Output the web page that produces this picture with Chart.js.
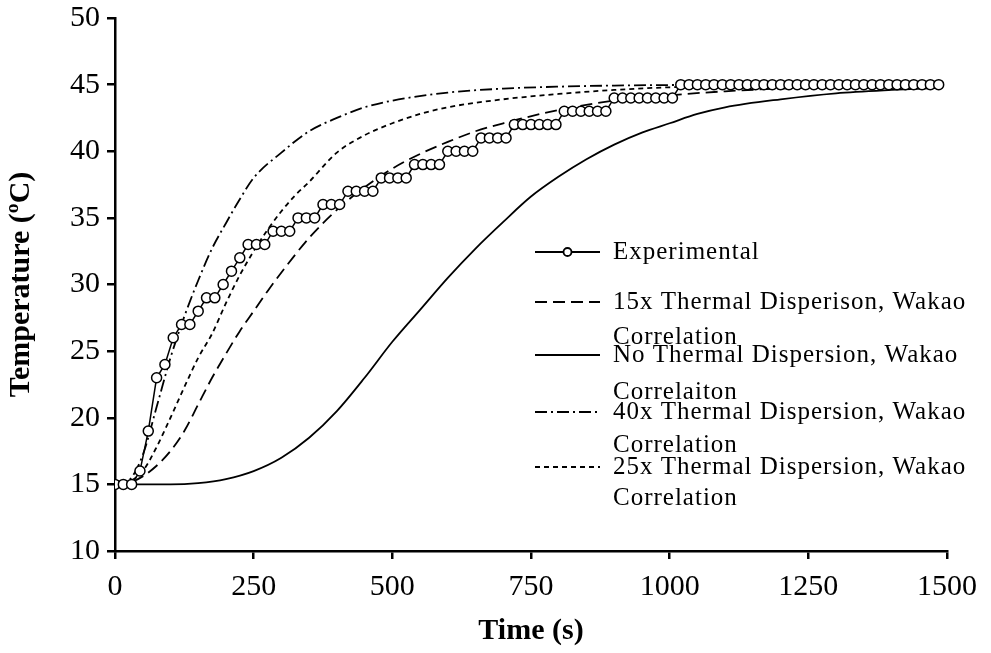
<!DOCTYPE html>
<html>
<head>
<meta charset="utf-8">
<script src="https://cdn.jsdelivr.net/npm/chart.js@4.4.1/dist/chart.umd.min.js"></script>
<style>
  body { margin: 0; background: #fff; }
  #wrap { width: 991px; height: 653px; }
</style>
</head>
<body>
<div id="wrap"><canvas id="chart"></canvas></div>
<script>
// experimental readings, every 15 s
const expTime = [0, 15, 30, 45, 60, 75, 90, 105, 120, 135, 150, 165, 180, 195, 210, 225, 240, 255, 270, 285,
  300, 315, 330, 345, 360, 375, 390, 405, 420, 435, 450, 465, 480, 495, 510, 525, 540, 555, 570, 585,
  600, 615, 630, 645, 660, 675, 690, 705, 720, 735, 750, 765, 780, 795, 810, 825, 840, 855, 870, 885,
  900, 915, 930, 945, 960, 975, 990, 1005, 1020, 1035, 1050, 1065, 1080, 1095, 1110, 1125, 1140, 1155, 1170, 1185,
  1200, 1215, 1230, 1245, 1260, 1275, 1290, 1305, 1320, 1335, 1350, 1365, 1380, 1395, 1410, 1425, 1440, 1455, 1470, 1485];
const expTemp = [15, 15, 15, 16, 19, 23, 24, 26, 27, 27, 28, 29, 29, 30, 31, 32, 33, 33, 33, 34,
  34, 34, 35, 35, 35, 36, 36, 36, 37, 37, 37, 37, 38, 38, 38, 38, 39, 39, 39, 39,
  40, 40, 40, 40, 41, 41, 41, 41, 42, 42, 42, 42, 42, 42, 43, 43, 43, 43, 43, 43,
  44, 44, 44, 44, 44, 44, 44, 44, 45, 45, 45, 45, 45, 45, 45, 45, 45, 45, 45, 45,
  45, 45, 45, 45, 45, 45, 45, 45, 45, 45, 45, 45, 45, 45, 45, 45, 45, 45, 45, 45];

// model curves
const x15Time = [0, 25, 50, 75, 100, 125, 150, 175, 200, 225, 250, 275, 300, 350, 400, 450, 500, 550, 600, 650, 700, 800, 900, 1000, 1100, 1200, 1300, 1485];
const x15Temp = [15, 15.1, 15.6, 16.4, 17.5, 19.0, 21.0, 23.0, 24.8, 26.5, 28.0, 29.5, 30.9, 33.5, 35.6, 37.3, 38.7, 39.8, 40.7, 41.5, 42.1, 43.1, 43.8, 44.2, 44.5, 44.7, 44.8, 44.9];

const noTime = [0, 100, 150, 200, 250, 300, 350, 400, 450, 500, 550, 600, 650, 700, 750, 800, 850, 900, 950, 1000, 1050, 1100, 1200, 1300, 1400, 1485];
const noTemp = [15, 15, 15.1, 15.4, 16.0, 17.0, 18.5, 20.5, 23.0, 25.7, 28.1, 30.5, 32.7, 34.7, 36.6, 38.1, 39.4, 40.5, 41.4, 42.1, 42.8, 43.3, 43.9, 44.35, 44.6, 44.75];

const x40Time = [0, 25, 50, 75, 100, 125, 150, 175, 200, 225, 250, 300, 350, 400, 450, 500, 600, 700, 800, 900, 1000, 1200, 1485];
const x40Temp = [15, 15.3, 17.2, 20.8, 24.5, 27.6, 30.3, 32.7, 34.6, 36.4, 38.0, 39.9, 41.5, 42.5, 43.3, 43.8, 44.4, 44.7, 44.85, 44.93, 44.97, 45, 45];

const x25Time = [0, 25, 50, 75, 100, 125, 150, 175, 200, 225, 250, 275, 300, 325, 350, 400, 450, 500, 550, 600, 700, 800, 900, 1000, 1200, 1485];
const x25Temp = [15, 15.2, 16.0, 17.8, 20.0, 22.3, 24.5, 26.3, 28.6, 30.7, 32.5, 34.1, 35.5, 36.7, 37.7, 39.9, 41.2, 42.1, 42.8, 43.3, 43.9, 44.3, 44.6, 44.8, 44.93, 45];

const xTicks = [0, 250, 500, 750, 1000, 1250, 1500];
const yTicks = [10, 15, 20, 25, 30, 35, 40, 45, 50];

const legendItems = [
  { lines: ['Experimental'], dash: [], marker: true },
  { lines: ['15x Thermal Disperison, Wakao', 'Correlation'], dash: [12, 6] },
  { lines: ['No Thermal Dispersion, Wakao', 'Correlaiton'], dash: [] },
  { lines: ['40x Thermal Dispersion, Wakao', 'Correlation'], dash: [12, 4, 2, 4] },
  { lines: ['25x Thermal Dispersion, Wakao', 'Correlation'], dash: [5, 4] }
];

const pts = (xs, ys) => xs.map((x, i) => ({ x: x, y: ys[i] }));
const FONT = "'Liberation Serif', 'Times New Roman', serif";

const legendPlugin = {
  id: 'boxLegend',
  afterDraw(chart) {
    const ctx = chart.ctx;
    const a = chart.chartArea;
    const rows = [[234, 0], [284, 35], [337, 37], [394, 33], [449, 31]];
    ctx.save();
    ctx.font = '25px ' + FONT;
    ctx.letterSpacing = '1px';
    ctx.fillStyle = '#000';
    ctx.textBaseline = 'middle';
    legendItems.forEach((it, i) => {
      const y = a.top + rows[i][0];
      const x0 = a.left + 420, x1 = a.left + 485;
      ctx.strokeStyle = '#000';
      ctx.lineWidth = 1.8;
      ctx.setLineDash(it.dash);
      ctx.beginPath();
      ctx.moveTo(x0, y);
      ctx.lineTo(x1, y);
      ctx.stroke();
      ctx.setLineDash([]);
      if (it.marker) {
        ctx.beginPath();
        ctx.arc((x0 + x1) / 2, y, 4, 0, Math.PI * 2);
        ctx.fillStyle = '#fff';
        ctx.fill();
        ctx.stroke();
        ctx.fillStyle = '#000';
      }
      ctx.fillText(it.lines[0], a.left + 498, y);
      if (it.lines[1]) ctx.fillText(it.lines[1], a.left + 498, y + rows[i][1]);
    });
    ctx.restore();
  }
};

const curve = (data, dash) => ({
  data: data,
  borderColor: '#000',
  borderWidth: 1.8,
  borderDash: dash,
  pointRadius: 0,
  cubicInterpolationMode: 'monotone',
  fill: false
});

new Chart(document.getElementById('chart'), {
  type: 'line',
  data: {
    datasets: [
      {
        label: 'Experimental',
        data: pts(expTime, expTemp),
        borderColor: '#000',
        borderWidth: 1.5,
        pointRadius: 5,
        pointBackgroundColor: '#fff',
        pointBorderColor: '#000',
        pointBorderWidth: 1.5,
        tension: 0
      },
      Object.assign(curve(pts(x15Time, x15Temp), [12, 6]), { label: '15x Thermal Disperison, Wakao Correlation' }),
      Object.assign(curve(pts(noTime, noTemp), []), { label: 'No Thermal Dispersion, Wakao Correlaiton' }),
      Object.assign(curve(pts(x40Time, x40Temp), [12, 4, 2, 4]), { label: '40x Thermal Dispersion, Wakao Correlation' }),
      Object.assign(curve(pts(x25Time, x25Temp), [5, 4]), { label: '25x Thermal Dispersion, Wakao Correlation' })
    ]
  },
  options: {
    responsive: true,
    maintainAspectRatio: false,
    animation: false,
    layout: { padding: { left: 0, top: 18, right: 44, bottom: 0 } },
    plugins: {
      legend: { display: false },
      tooltip: { enabled: false }
    },
    scales: {
      x: {
        type: 'linear',
        min: 0,
        max: 1500,
        afterBuildTicks: s => { s.ticks = xTicks.map(v => ({ value: v })); },
        afterFit: s => { s.height = 102; s.paddingLeft = 0; s.paddingRight = 0; },
        border: { color: '#000', width: 2.5 },
        grid: { drawOnChartArea: false, drawTicks: true, tickLength: 8, color: '#000', lineWidth: 2.5 },
        ticks: { color: '#000', font: { family: FONT, size: 30 }, padding: 10, maxRotation: 0, callback: v => String(v) },
        title: { display: true, text: 'Time (s)', color: '#000', font: { family: FONT, size: 30, weight: 'bold' }, padding: { top: 0, bottom: 4 } }
      },
      y: {
        min: 10,
        max: 50,
        afterBuildTicks: s => { s.ticks = yTicks.map(v => ({ value: v })); },
        afterFit: s => { s.width = 115; s.paddingTop = 0; s.paddingBottom = 0; },
        border: { color: '#000', width: 2.5 },
        grid: { drawOnChartArea: false, drawTicks: true, tickLength: 8, color: '#000', lineWidth: 2.5 },
        ticks: { color: '#000', font: { family: FONT, size: 30 }, padding: 7, callback: v => String(v) },
        title: { display: true, text: 'Temperature (ºC)', color: '#000', font: { family: FONT, size: 30, weight: 'bold' }, padding: { top: 3, bottom: 0 } }
      }
    }
  },
  plugins: [legendPlugin]
});
</script>
</body>
</html>
